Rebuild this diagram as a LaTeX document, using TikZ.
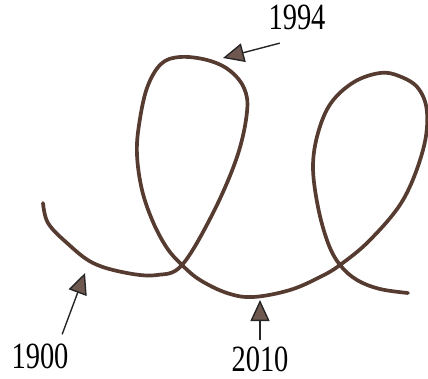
\documentclass[tikz,border=0pt]{standalone}
\usepackage{fontspec}
\setmainfont{Liberation Serif}
\usetikzlibrary{arrows.meta}
\definecolor{cokelat}{HTML}{553B30}
\begin{document}
\begin{tikzpicture}[x=1pt, y=-1pt,
    kurva/.style={cokelat, line width=3.7pt, line cap=round, line join=round},
    panah/.style={black!85, line width=1.4pt, -{Triangle[length=21pt,width=19pt,fill=cokelat!85]}},
    tahun/.style={font=\fontsize{37}{37}\selectfont, xscale=0.77, inner sep=0pt}]
    \useasboundingbox (0,0) rectangle (428,378);

    % Kurva lintasan dengan dua simpul
    \draw[kurva] plot[smooth, tension=0.6] coordinates {
        (43,203) (48,223) (67,243) (93,263) (127,273) (157,275)
        (182,265) (213,213) (237,157) (247,112) (244,88) (229,70)
        (207,60) (180,57) (161,64) (147,88) (139,125) (137,155)
        (142,190) (153,222) (167,248) (182,265) (200,280) (227,293)
        (253,297) (290,290) (320,277) (340,265) (370,240) (403,200)
        (423,150) (427,112) (418,88) (399,76) (380,73) (354,82)
        (331,103) (318,133) (313,167) (318,207) (328,243) (340,265)
        (357,280) (380,289) (408,293)};

    % Label tahun
    \node[tahun] (l1994) at (297,17) {1994};
    \node[tahun] (l1900) at (40,356) {1900};
    \node[tahun] (l2010) at (260,359) {2010};

    % Titik yang ditunjuk pada kurva
    \coordinate (p1994) at (223,58);
    \coordinate (p1900) at (85,273);
    \coordinate (p2010) at (260,300);

    % Panah penunjuk
    \draw[panah] ([xshift=11.5pt,yshift=-13.5pt]l1994.south west) -- (p1994);
    \draw[panah] ([xshift=-6.5pt,yshift=9pt]l1900.north east) -- (p1900);
    \draw[panah] ([yshift=6pt]l2010.north) -- (p2010);
\end{tikzpicture}
\end{document}
